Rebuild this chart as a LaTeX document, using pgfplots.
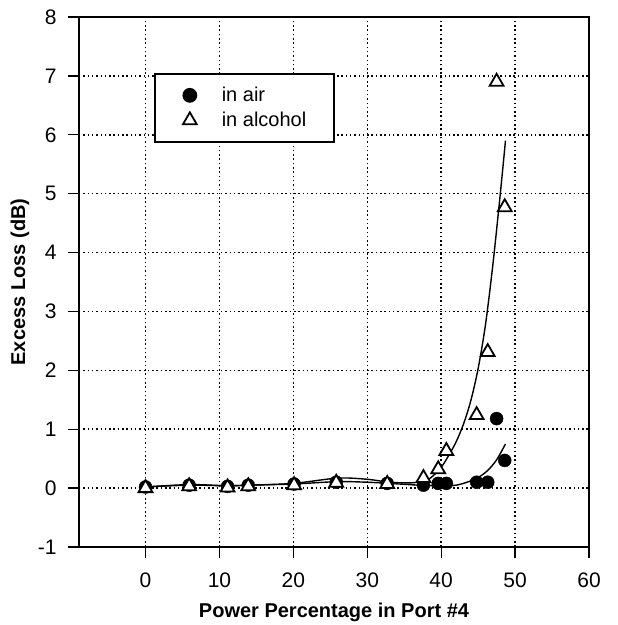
\documentclass[border=0pt]{standalone}
\usepackage{fontspec}
\setmainfont{Liberation Sans}
\usepackage{pgfplots}
\pgfplotsset{compat=1.18}
\usetikzlibrary{calc}

% measured points
\pgfplotstableread{
x     y
0     0.02
5.9   0.05
11.1  0.03
13.9  0.05
20.1  0.07
25.8  0.10
32.7  0.08
37.6  0.05
39.6  0.08
40.7  0.08
44.8  0.10
46.3  0.10
47.5  1.18
48.6  0.47
}\airdata

\pgfplotstableread{
x     y
0     0.00
5.9   0.03
11.1  0.01
13.9  0.03
20.1  0.05
25.8  0.09
32.7  0.07
37.6  0.17
39.6  0.32
40.7  0.63
44.8  1.24
46.3  2.31
47.5  6.90
48.6  4.77
}\alcdata

% fitted curves
\pgfplotstableread{
x     y
0     0.02
6     0.05
11    0.04
14    0.05
20    0.07
26    0.11
30    0.10
33    0.08
37    0.05
40    0.04
42    0.05
43.5  0.10
45    0.18
46.3  0.30
47.5  0.48
48.7  0.75
}\airfit

\pgfplotstableread{
x     y
0     0.02
6     0.06
11    0.04
14    0.05
20    0.08
26    0.17
30    0.15
33    0.10
36    0.09
38    0.13
39    0.22
40    0.35
41    0.55
42    0.78
43    1.08
44    1.48
45    2.03
46    2.78
47    3.80
48    5.00
48.7  5.90
}\alcfit

\begin{document}
\begin{tikzpicture}
\begin{axis}[
  scale only axis, width=510pt, height=530pt,
  xmin=-9, xmax=60, ymin=-1, ymax=8,
  xtick={0,10,...,60}, ytick={-1,0,...,8},
  tick pos=left, tick align=outside, major tick length=11pt,
  tick style={line width=1.3pt, black},
  axis line style={line width=1.8pt},
  grid=major,
  grid style={line width=1.5pt, dash pattern=on 1.5pt off 2.8pt, black},
  ticklabel style={font=\fontsize{21}{25}\selectfont},
  xticklabel style={yshift=-11pt},
  yticklabel style={xshift=-8pt},
  /pgf/number format/assume math mode=true,
  xlabel={\textbf{Power Percentage in Port \#4}},
  ylabel={\textbf{Excess Loss (dB)}},
  label style={font=\fontsize{20}{24}\selectfont},
  xlabel style={at={(axis description cs:0.5,-0.1330)}, anchor=base},
  ylabel style={at={(axis description cs:-0.1157,0.5)}, anchor=center},
  legend style={at={(axis cs:1.15,7.05)}, anchor=north west,
    draw=black, line width=1.8pt, inner xsep=28pt, inner ysep=13.5pt,
    font=\fontsize{20}{24}\selectfont, row sep=9pt, column sep=25pt,
    nodes={inner sep=0pt, anchor=west}},
  legend cell align=left,
  legend image code/.code={\draw[#1] plot coordinates {(0pt,0pt)};},
]
\addplot[black, line width=1.4pt, smooth, tension=0.5, forget plot] table {\airfit};
\addplot[black, line width=1.4pt, smooth, tension=0.5, forget plot] table {\alcfit};
\addplot[only marks, mark=*, mark size=6.5pt, black] table {\airdata};
\addplot[only marks, mark=triangle*, mark size=8pt, mark options={fill=white, draw=black, line width=1.8pt}] table {\alcdata};
\legend{in air, in alcohol}
\end{axis}
\pgfresetboundingbox
\path ($(current axis.south west)+(-79pt,-78pt)$) rectangle ($(current axis.north east)+(29pt,17pt)$);
\end{tikzpicture}
\end{document}
